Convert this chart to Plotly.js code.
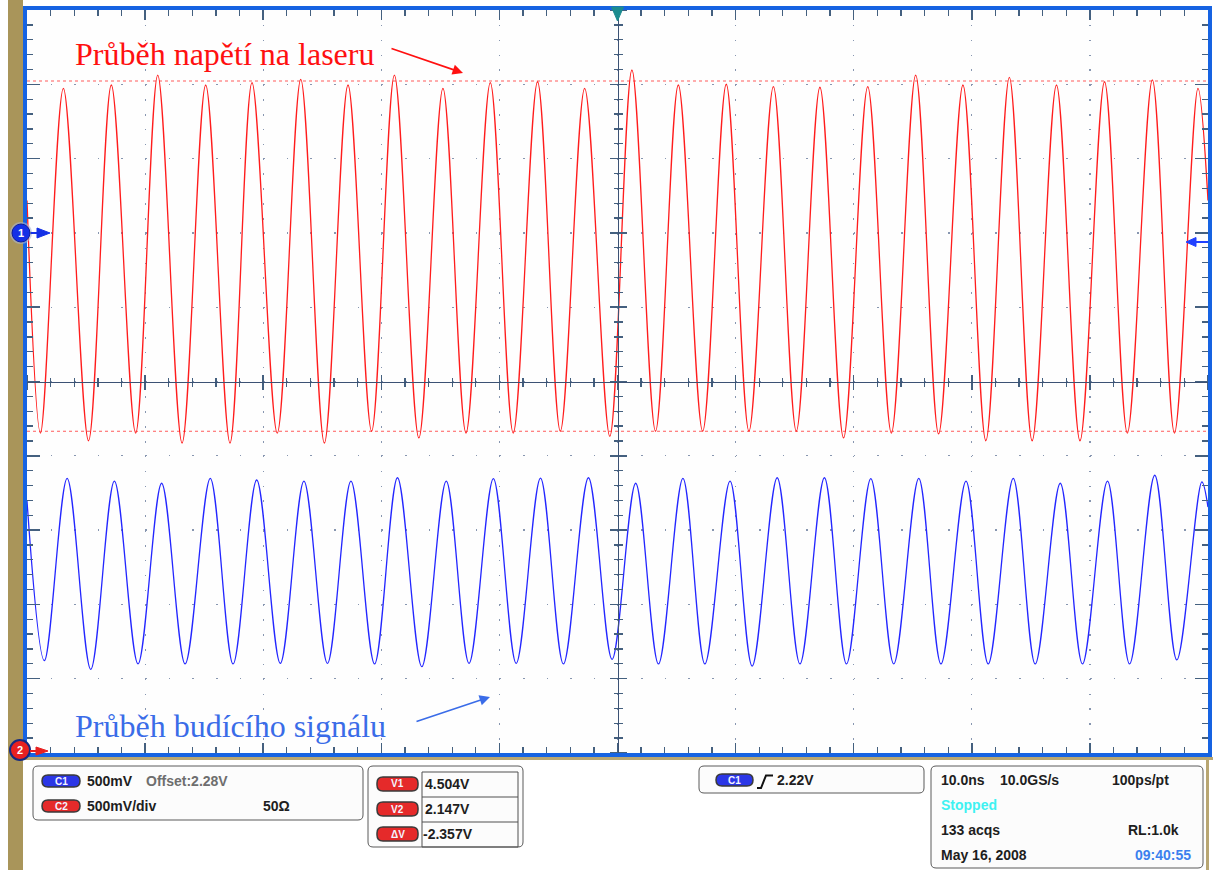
<!DOCTYPE html>
<html>
<head>
<meta charset="utf-8">
<script src="https://cdn.plot.ly/plotly-3.0.1.min.js"></script>
<style>
html,body{margin:0;padding:0;background:#ffffff;}
#chart{width:1213px;height:870px;}
</style>
</head>
<body>
<div id="chart"></div>
<script>
// ---------------- DATA ----------------
// time axis: 10 ns/div, 10 divisions; voltage axis: 500 mV/div
const timeRange = [-50, 50];
const voltRange = [-0.0182, 4.9818];

// Red trace ("Průběh napětí na laseru"): crest and trough times (ns) and levels (V)
const redPeakT = [-46.92,-42.86,-38.93,-34.87,-30.95,-26.82,-22.82,-18.89,-14.78,-10.77,-6.77,-2.78,1.22,5.15,9.21,13.20,17.14,21.19,25.25,29.25,33.18,37.17,41.24,45.29,49.15];
const redPeakV = [4.455,4.477,4.544,4.477,4.493,4.515,4.477,4.544,4.455,4.493,4.499,4.455,4.578,4.477,4.482,4.466,4.462,4.466,4.544,4.477,4.529,4.477,4.499,4.511,4.455];
const redTroughT = [-48.86,-44.79,-40.80,-36.87,-32.81,-28.81,-24.82,-20.82,-16.82,-12.83,-8.83,-4.84,-0.65,3.22,7.21,11.13,15.14,19.14,23.19,27.19,31.19,35.11,39.16,43.17,47.16];
const redTroughV = [2.135,2.083,2.135,2.068,2.068,2.135,2.068,2.147,2.102,2.135,2.135,2.147,2.113,2.147,2.147,2.147,2.147,2.102,2.135,2.129,2.083,2.083,2.083,2.135,2.135];
const redEdgeT = [-50, 50];
const redEdgeV = [3.70, 3.70];

// Blue trace ("Průběh budícího signálu")
const bluePeakT = [-46.60,-42.60,-38.60,-34.48,-30.55,-26.55,-22.57,-18.63,-14.50,-10.51,-6.52,-2.46,1.54,5.54,9.53,13.52,17.52,21.45,25.51,29.51,33.51,37.49,41.49,45.49,49.48];
const bluePeakV = [1.830,1.812,1.797,1.830,1.819,1.812,1.812,1.834,1.812,1.828,1.832,1.834,1.797,1.830,1.812,1.834,1.834,1.828,1.830,1.812,1.830,1.797,1.812,1.851,1.806];
const blueTroughT = [-48.53,-44.60,-40.60,-36.61,-32.55,-28.55,-24.56,-20.57,-16.57,-12.57,-8.58,-4.58,-0.46,3.47,7.40,11.40,15.45,19.39,23.39,27.39,31.39,35.37,39.37,43.36,47.36];
const blueTroughV = [0.603,0.545,0.581,0.581,0.581,0.585,0.585,0.581,0.563,0.585,0.585,0.581,0.612,0.581,0.581,0.567,0.581,0.581,0.581,0.581,0.581,0.581,0.581,0.581,0.608];
const blueEdgeT = [-50, 50];
const blueEdgeV = [1.678, 1.637];

// cursors
const cursorV1 = 4.504;
const cursorV2 = 2.147;
const cursorDV = -2.357;

// labels
const labelRed = "Průběh napětí na laseru";
const labelBlue = "Průběh budícího signálu";
const ch1Scale = "500mV";
const ch1Offset = "Offset:2.28V";
const ch2Scale = "500mV/div";
const ch2Imp = "50Ω";
const trigLevel = "2.22V";
const timebase = "10.0ns";
const sampleRate = "10.0GS/s";
const resolution = "100ps/pt";
const runState = "Stopped";
const acqs = "133 acqs";
const recLen = "RL:1.0k";
const dateStr = "May 16, 2008";
const timeStr = "09:40:55";

// ---------------- BUILD ----------------
function merge(a, b, c, d, e, f) {
  const pts = [];
  a.forEach((t, i) => pts.push([t, b[i]]));
  c.forEach((t, i) => pts.push([t, d[i]]));
  e.forEach((t, i) => pts.push([t, f[i]]));
  pts.sort((p, q) => p[0] - q[0]);
  return {x: pts.map(p => p[0]), y: pts.map(p => p[1])};
}
const red = merge(redPeakT, redPeakV, redTroughT, redTroughV, redEdgeT, redEdgeV);
const blue = merge(bluePeakT, bluePeakV, blueTroughT, blueTroughV, blueEdgeT, blueEdgeV);

const traces = [
  {x: blue.x, y: blue.y, type: 'scatter', mode: 'lines',
   line: {color: '#2326ff', width: 1.3, shape: 'spline', smoothing: 0.95}, hoverinfo: 'skip'},
  {x: red.x, y: red.y, type: 'scatter', mode: 'lines',
   line: {color: '#ff1c1c', width: 1.3, shape: 'spline', smoothing: 0.95}, hoverinfo: 'skip'}
];

// plot-area geometry (pixels) -> paper helpers for decorations
const L = 27, T = 10, W = 1181, H = 743;
const PX = x => (x - L) / W;
const PY = y => (T + H - y) / H;

const tickCol = '#44607f';
const gridCol = '#8796b0';
const vDiv = (voltRange[1] - voltRange[0]) / 10;

function rr(x0, y0, x1, y1, r) {
  const p = (x, y) => PX(x) + ',' + PY(y);
  return 'M' + p(x0 + r, y0) + ' L' + p(x1 - r, y0) + ' Q' + p(x1, y0) + ' ' + p(x1, y0 + r) +
    ' L' + p(x1, y1 - r) + ' Q' + p(x1, y1) + ' ' + p(x1 - r, y1) +
    ' L' + p(x0 + r, y1) + ' Q' + p(x0, y1) + ' ' + p(x0, y1 - r) +
    ' L' + p(x0, y0 + r) + ' Q' + p(x0, y0) + ' ' + p(x0 + r, y0) + ' Z';
}
function poly(pts) {
  return 'M' + pts.map(p => PX(p[0]) + ',' + PY(p[1])).join(' L') + ' Z';
}
function rectP(x0, y0, x1, y1, fill, lineCol, lw) {
  return {type: 'rect', xref: 'paper', yref: 'paper', x0: PX(x0), x1: PX(x1), y0: PY(y1), y1: PY(y0),
    fillcolor: fill, line: {color: lineCol || fill, width: lw || 0}, layer: 'above'};
}
function pathP(d, fill, lineCol, lw) {
  return {type: 'path', xref: 'paper', yref: 'paper', path: d, fillcolor: fill,
    line: {color: lineCol, width: lw}, layer: 'above'};
}
function lineP(x0, y0, x1, y1, col, w) {
  return {type: 'line', xref: 'paper', yref: 'paper', x0: PX(x0), x1: PX(x1), y0: PY(y0), y1: PY(y1),
    line: {color: col, width: w}, layer: 'above'};
}
function circP(cx, cy, r, fill, lineCol, lw) {
  return {type: 'circle', xref: 'paper', yref: 'paper', x0: PX(cx - r), x1: PX(cx + r), y0: PY(cy + r), y1: PY(cy - r),
    fillcolor: fill, line: {color: lineCol, width: lw}, layer: 'above'};
}

const shapes = [];
// cursor lines
[cursorV1, cursorV2].forEach(v => shapes.push({type: 'line', xref: 'paper', yref: 'y', x0: 0, x1: 1, y0: v, y1: v,
  line: {color: '#ff5b5b', width: 1, dash: 'dot'}, layer: 'below'}));
// frame
shapes.push(rectP(8, 0, 23, 870, '#a9955a'));
shapes.push(rectP(23, 757, 1213, 760, '#b8a672'));
shapes.push(rectP(1206, 757, 1209, 870, '#b8a672'));
shapes.push({type: 'rect', xref: 'paper', yref: 'paper', x0: PX(25), x1: PX(1210), y0: PY(755), y1: PY(8),
  line: {color: '#1663e2', width: 4}, fillcolor: 'rgba(0,0,0,0)', layer: 'above'});
// trigger position marker (top centre)
shapes.push(pathP(poly([[611.5, 7], [623.5, 7], [617.5, 21]]), '#1c8c8f', '#1c8c8f', 1));
// channel 1 marker
shapes.push(circP(21, 233, 11, 'rgba(170,180,210,0.6)', 'rgba(0,0,0,0)', 0));
shapes.push(circP(21, 233, 9, '#1430e6', '#0c1d9a', 1));
shapes.push(lineP(31, 233, 39, 233, '#1430e6', 2));
shapes.push(pathP(poly([[37, 228], [50, 233], [37, 238]]), '#1430e6', '#1430e6', 1));
// channel 2 marker
shapes.push(circP(20, 750, 10, '#e82020', '#152a80', 2));
shapes.push(lineP(30, 751, 38, 751, '#e82020', 2));
shapes.push(pathP(poly([[36, 747], [48, 751], [36, 755]]), '#e82020', '#e82020', 1));
// trigger level marker (right edge)
shapes.push(lineP(1195, 242, 1208, 242, '#2040ff', 2));
shapes.push(pathP(poly([[1186, 242], [1196, 237.5], [1196, 246.5]]), '#2040ff', '#2040ff', 1));

// info panel boxes
const boxLine = '#5a5a5a';
shapes.push(pathP(rr(33, 766, 363, 820, 5), '#fcfcfc', boxLine, 1));
shapes.push(pathP(rr(368, 766, 523, 847, 5), '#fcfcfc', boxLine, 1));
shapes.push(rectP(422, 772, 518, 847, 'rgba(0,0,0,0)', '#505050', 1));
shapes.push(lineP(422, 797, 518, 797, '#505050', 1));
shapes.push(lineP(422, 822, 518, 822, '#505050', 1));
shapes.push(pathP(rr(699, 766, 924, 793, 5), '#fcfcfc', boxLine, 1));
shapes.push(pathP(rr(931, 766, 1203, 868, 5), '#fcfcfc', boxLine, 1));
// badges
const badges = [
  [42, 775, 80, 787, '#2b36e6', 'C1'],
  [42, 800, 80, 812, '#e52a2a', 'C2'],
  [377, 777, 418, 791, '#e52a2a', 'V1'],
  [377, 802, 418, 816, '#e52a2a', 'V2'],
  [377, 827, 418, 841, '#e52a2a', 'ΔV'],
  [716, 774, 753, 786, '#2b36e6', 'C1']
];
badges.forEach(b => shapes.push(pathP(rr(b[0], b[1], b[2], b[3], 6), b[4], '#3a3a3a', 1.5)));
// rising edge symbol
shapes.push({type: 'path', xref: 'paper', yref: 'paper', layer: 'above',
  path: 'M' + PX(757) + ',' + PY(788) + ' L' + PX(761) + ',' + PY(788) + ' L' + PX(766) + ',' + PY(775.5) + ' L' + PX(773) + ',' + PY(775.5),
  line: {color: '#111', width: 2}});

// annotations
const ann = [];
const sans = 'Liberation Sans, Arial, sans-serif';
function txt(x, y, s, opts) {
  opts = opts || {};
  ann.push({xref: 'paper', yref: 'paper', x: PX(x), y: PY(y), text: s, showarrow: false,
    xanchor: opts.xa || 'left', yanchor: 'middle',
    font: {family: opts.family || sans, size: opts.size || 14, color: opts.color || '#1e1e1e', weight: opts.weight || 'bold'}});
}
function arrow(hx, hy, tx, ty, col) {
  ann.push({xref: 'paper', yref: 'paper', x: PX(hx), y: PY(hy), ax: tx - hx, ay: ty - hy, text: '',
    showarrow: true, arrowhead: 2, arrowsize: 1.3, arrowwidth: 1.6, arrowcolor: col});
}
txt(73, 54, labelRed, {family: 'Liberation Serif, Times New Roman, serif', size: 32, color: '#ff1010', weight: 'normal'});
txt(73, 726, labelBlue, {family: 'Liberation Serif, Times New Roman, serif', size: 32, color: '#3a6ce8', weight: 'normal'});
arrow(463, 73, 390, 48, '#ff1010');
arrow(490, 697, 415, 722, '#3a6ce8');

txt(21, 233, '1', {xa: 'center', size: 11, color: '#ffffff'});
txt(20, 750, '2', {xa: 'center', size: 11, color: '#ffffff'});

badges.forEach(b => txt((b[0] + b[2]) / 2, (b[1] + b[3]) / 2, b[5], {xa: 'center', size: 10, color: '#f4f4ff'}));
txt(85, 781, ch1Scale);
txt(144, 781, ch1Offset, {color: '#6e6e6e'});
txt(85, 806, ch2Scale);
txt(261, 806, ch2Imp);
txt(423, 784, cursorV1.toFixed(3) + 'V');
txt(423, 809, cursorV2.toFixed(3) + 'V');
txt(421, 834, cursorDV.toFixed(3) + 'V');
txt(775, 780, trigLevel);
txt(939, 780, timebase);
txt(998, 780, sampleRate);
txt(1110, 780, resolution);
txt(939, 805, runState, {color: '#3ef2f2'});
txt(939, 830, acqs);
txt(1126, 830, recLen);
txt(939, 855, dateStr);
txt(1133, 855, timeStr, {color: '#3b80ee'});

const baseAxisX = {range: timeRange, showticklabels: false, zeroline: false, fixedrange: true};
const baseAxisY = {range: voltRange, showticklabels: false, zeroline: false, fixedrange: true};

const layout = {
  width: 1213, height: 870,
  margin: {l: L, r: 1213 - L - W, t: T, b: 870 - T - H, pad: 0},
  paper_bgcolor: '#ffffff', plot_bgcolor: '#fefefe',
  showlegend: false,
  xaxis: Object.assign({}, baseAxisX, {
    showgrid: true, gridcolor: gridCol, gridwidth: 1.2, griddash: '1.6px,13.26px',
    tick0: 0, dtick: 10, ticks: 'inside', ticklen: 10, tickwidth: 1.5, tickcolor: tickCol,
    showline: false, mirror: 'ticks',
    minor: {dtick: 2, tick0: 0, ticks: 'inside', ticklen: 6, tickwidth: 1.3, tickcolor: tickCol, showgrid: false}
  }),
  yaxis: Object.assign({}, baseAxisY, {
    showgrid: true, gridcolor: gridCol, gridwidth: 1.2, griddash: '1.6px,22.02px',
    tick0: voltRange[0], dtick: vDiv, ticks: 'inside', ticklen: 13, tickwidth: 1.5, tickcolor: tickCol,
    showline: false, mirror: 'ticks',
    minor: {dtick: vDiv / 5, tick0: voltRange[0], ticks: 'inside', ticklen: 6, tickwidth: 1.3, tickcolor: tickCol, showgrid: false}
  }),
  // centre cross-hair axes (ticks on both sides)
  xaxis2: Object.assign({}, baseAxisX, {overlaying: 'x', anchor: 'free', position: 0.5, side: 'bottom',
    showgrid: false, showline: true, linecolor: '#3c5274', linewidth: 1.5,
    tick0: 0, dtick: 10, ticks: 'outside', ticklen: 7, tickwidth: 1.5, tickcolor: tickCol,
    minor: {dtick: 2, tick0: 0, ticks: 'outside', ticklen: 4, tickwidth: 1.3, tickcolor: tickCol, showgrid: false}}),
  xaxis3: Object.assign({}, baseAxisX, {overlaying: 'x', anchor: 'free', position: 0.5, side: 'top',
    showgrid: false, showline: false,
    tick0: 0, dtick: 10, ticks: 'outside', ticklen: 7, tickwidth: 1.5, tickcolor: tickCol,
    minor: {dtick: 2, tick0: 0, ticks: 'outside', ticklen: 4, tickwidth: 1.3, tickcolor: tickCol, showgrid: false}}),
  yaxis2: Object.assign({}, baseAxisY, {overlaying: 'y', anchor: 'free', position: 0.5, side: 'left',
    showgrid: false, showline: true, linecolor: '#3c5274', linewidth: 1.5,
    tick0: voltRange[0], dtick: vDiv, ticks: 'outside', ticklen: 8, tickwidth: 1.5, tickcolor: tickCol,
    minor: {dtick: vDiv / 5, tick0: voltRange[0], ticks: 'outside', ticklen: 4, tickwidth: 1.3, tickcolor: tickCol, showgrid: false}}),
  yaxis3: Object.assign({}, baseAxisY, {overlaying: 'y', anchor: 'free', position: 0.5, side: 'right',
    showgrid: false, showline: false,
    tick0: voltRange[0], dtick: vDiv, ticks: 'outside', ticklen: 8, tickwidth: 1.5, tickcolor: tickCol,
    minor: {dtick: vDiv / 5, tick0: voltRange[0], ticks: 'outside', ticklen: 4, tickwidth: 1.3, tickcolor: tickCol, showgrid: false}}),
  shapes: shapes,
  annotations: ann
};

// invisible traces so the overlay axes are drawn
traces.push({x: timeRange, y: voltRange, xaxis: 'x2', yaxis: 'y2', mode: 'none', type: 'scatter', hoverinfo: 'skip'});
traces.push({x: timeRange, y: voltRange, xaxis: 'x3', yaxis: 'y3', mode: 'none', type: 'scatter', hoverinfo: 'skip'});

Plotly.newPlot('chart', traces, layout, {staticPlot: true, displayModeBar: false});
</script>
</body>
</html>
